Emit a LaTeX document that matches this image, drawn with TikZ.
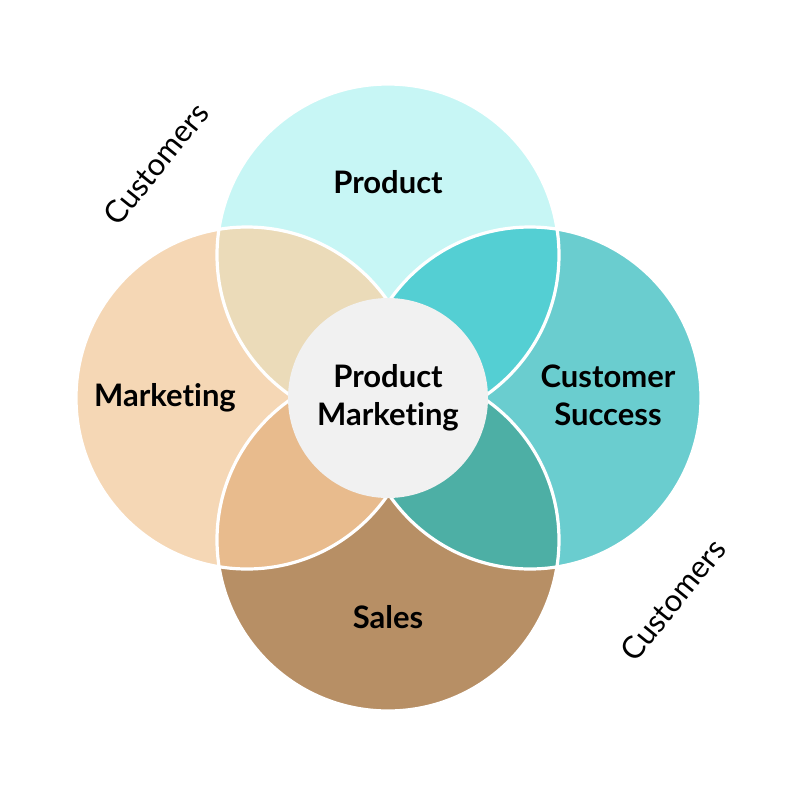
\documentclass[tikz,border=0pt]{standalone}
\usepackage{fontspec}
\setmainfont{Lato}[Ligatures=NoCommon]
\definecolor{cTop}{HTML}{C7F6F5}
\definecolor{cLeft}{HTML}{F5D7B5}
\definecolor{cRight}{HTML}{6ACDCF}
\definecolor{cBottom}{HTML}{B78F65}
\definecolor{cTL}{HTML}{EBDBB9}
\definecolor{cTR}{HTML}{54CFD3}
\definecolor{cBL}{HTML}{E8BB8D}
\definecolor{cBR}{HTML}{4DAFA5}
\definecolor{cCenter}{HTML}{F1F1F1}
\tikzset{
  ring/.style={draw=white, line width=1.6pt},
  lbl/.style={font=\bfseries\fontsize{15.5}{19}\selectfont, align=center, text=black},
  cust/.style={font=\fontsize{15.5}{18}\selectfont, text=black, inner sep=0pt}
}
\begin{document}
\begin{tikzpicture}[x=0.5pt,y=-0.5pt]
\fill[white] (0,0) rectangle (800,800);
\useasboundingbox (0,0) rectangle (800,800);
\coordinate (T) at (388,255);
\coordinate (L) at (247,398);
\coordinate (R) at (530,398);
\coordinate (B) at (388,540);
\coordinate (C) at (388,398);
\def\rr{85.5pt}
\fill[cTop] (T) circle (\rr);
\fill[cLeft] (L) circle (\rr);
\fill[cRight] (R) circle (\rr);
\fill[cBottom] (B) circle (\rr);
\begin{scope}\clip (T) circle (\rr); \fill[cTL] (L) circle (\rr); \end{scope}
\begin{scope}\clip (T) circle (\rr); \fill[cTR] (R) circle (\rr); \end{scope}
\begin{scope}\clip (B) circle (\rr); \fill[cBL] (L) circle (\rr); \end{scope}
\begin{scope}\clip (B) circle (\rr); \fill[cBR] (R) circle (\rr); \end{scope}
\draw[ring] (T) circle (\rr);
\draw[ring] (L) circle (\rr);
\draw[ring] (R) circle (\rr);
\draw[ring] (B) circle (\rr);
\fill[cCenter] (C) circle (50pt);
\node[lbl] (product) at (388,182) {Product};
\node[lbl] (marketing) at (165,398) {Marketing};
\node[lbl] (cs) at (608,395) {Customer\\Success};
\node[lbl] (sales) at (388,617) {Sales};
\node[lbl] (pm) at (388,398) {Product\\Marketing};
\node[cust, rotate=51] (cust1) at (156,164) {Customers};
\node[cust, rotate=51] (cust2) at (673,600) {Customers};
\end{tikzpicture}
\end{document}
